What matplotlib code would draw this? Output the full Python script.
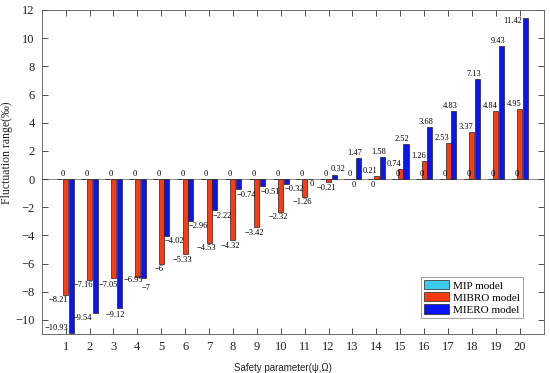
import matplotlib
matplotlib.use("Agg")
import matplotlib.pyplot as plt
import numpy as np

# data
params = list(range(1, 21))
mip = [0] * 20
mibro = [-8.21, -7.16, -7.05, -6.95, -6, -5.33, -4.53, -4.32, -3.42, -2.32,
         -1.26, -0.21, 0, 0.21, 0.74, 1.26, 2.53, 3.37, 4.84, 4.95]
miero = [-10.93, -9.54, -9.12, -7, -4.02, -2.96, -2.22, -0.74, -0.51, -0.32,
         0, 0.32, 1.47, 1.58, 2.52, 3.68, 4.83, 7.13, 9.43, 11.42]
series_names = ["MIP model", "MIBRO model", "MIERO model"]

colors = ["#3CCBEE", "#FF3A10", "#0A14F5"]
serif = "Liberation Serif"

plt.rcParams["font.family"] = serif
plt.rcParams["axes.unicode_minus"] = True

fig = plt.figure(figsize=(5.5, 3.73), dpi=100)
ax = fig.add_axes([41.7 / 550, 39 / 373, 502 / 550, 324 / 373])

x = np.array(params)
off = 0.24
w = 0.21
for k, (vals, c, name) in enumerate(zip([mip, mibro, miero], colors, series_names)):
    ax.bar(x + (k - 1) * off, vals, width=w, color=c, edgecolor="#222222",
           linewidth=0.5, label=name, zorder=2)


def fmt(v):
    return f"{v:g}".replace("-", "\u2212")


lab = dict(fontsize=6, ha="center", va="center", family=serif, zorder=3)

# value labels, placed roughly like the hand-placed ones in the source
for i, v in zip(params, mip):
    if i == 14:
        ax.text(i - 0.17, v - 0.4, fmt(v), **lab)
    else:
        ax.text(i - 0.12, v + 0.35, fmt(v), **lab)

red_fix = {1: (-0.3, -0.37), 2: (-0.25, -0.34), 3: (-0.2, -0.45), 4: (-0.17, -0.25)}
for i, v in zip(params, mibro):
    if i in red_fix:
        dx, dy = red_fix[i]
    elif v < 0:
        dx, dy = -0.1, -0.4
    elif v == 0:
        dx, dy = 0.05, -0.4
    else:
        dx, dy = -0.25, 0.35
    ax.text(i + dx, v + dy, fmt(v), **lab)

blue_fix = {1: (-0.38, 0.35), 2: (-0.3, -0.32), 3: (0.08, -0.53),
            4: (0.35, -0.7), 11: (0.3, -0.35), 12: (0.38, 0.38), 20: (-0.31, -0.22)}
for i, v in zip(params, miero):
    if i in blue_fix:
        dx, dy = blue_fix[i]
    elif v < 0:
        dx, dy = 0.55, -0.4
    else:
        dx, dy = 0.08, 0.35
    ax.text(i + dx, v + dy, fmt(v), **lab)

ax.axhline(0, color="#777777", linewidth=0.6, zorder=1)

ax.set_xlim(0, 21)
ax.set_ylim(-11, 12)
ax.set_xticks(params)
ax.set_yticks(np.arange(-10, 13, 2))
ax.tick_params(direction="in", top=True, right=True, length=4, width=0.6,
               labelsize=9, pad=5, colors="#333333", labelcolor="#222222")
for s in ax.spines.values():
    s.set_linewidth(0.6)
    s.set_color("#555555")

ax.set_ylabel("Fluctuation range(\u2030)", fontsize=8.5, family=serif, color="#222222")
ax.yaxis.set_label_coords(-0.057, 0.56)
ax.set_xlabel("Safety parameter(\u03c8,\u03a9)", fontsize=7, family="Liberation Sans",
              color="#222222")
ax.xaxis.set_label_coords(0.48, -0.09)

leg = ax.legend(loc="lower right", bbox_to_anchor=(0.959, 0.049), fontsize=8,
                frameon=True, fancybox=False, handlelength=2.3, handleheight=0.9,
                handletextpad=0.3, labelspacing=0.15, borderpad=0.3,
                borderaxespad=0)
leg.get_frame().set_edgecolor("#777777")
leg.get_frame().set_linewidth(0.6)

fig.savefig("out.png", dpi=100)
